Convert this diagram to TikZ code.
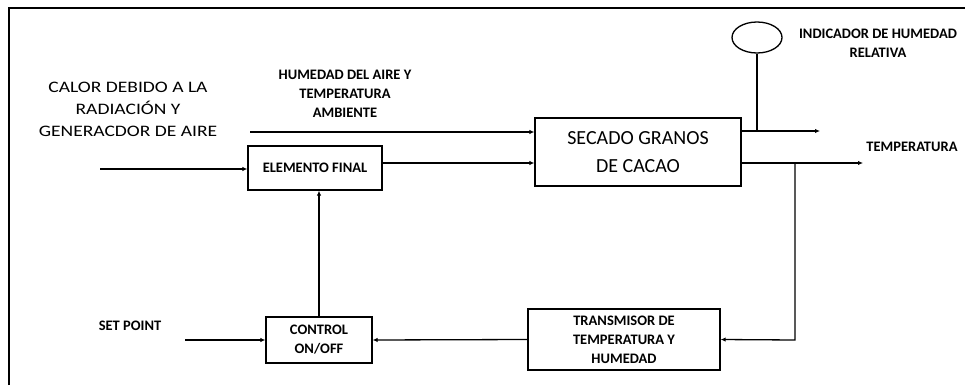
\documentclass[tikz,border=0pt]{standalone}
\usepackage{fontspec}
\setmainfont{Carlito}
\newfontfamily\widefont[FakeStretch=1.22]{Carlito}
\usetikzlibrary{arrows.meta,shapes.geometric}
\begin{document}
\begin{tikzpicture}[x=1pt,y=-1pt,
  line width=1.3pt,
  arr/.style={-{Latex[length=5pt,width=4.5pt]}},
  blk/.style={draw,line width=1.3pt,align=center,inner sep=0pt},
  lbl/.style={align=center,font=\fontsize{14.5}{19}\selectfont\bfseries},
  big/.style={align=center,font=\widefont\fontsize{16}{22}\selectfont}]
\useasboundingbox (0,0) rectangle (965,385);
\draw (9,385) -- (9,8) -- (965,8);
% blocks
\node[blk,lbl,minimum width=134,minimum height=44] (elem) at (315,168) {ELEMENTO FINAL};
\node[blk,font=\fontsize{20}{28}\selectfont,minimum width=206,minimum height=68] (sec) at (638,152) {SECADO GRANOS\\DE CACAO};
\node[blk,lbl,minimum width=192,minimum height=61] (tra) at (624,339.5) {TRANSMISOR DE\\TEMPERATURA Y\\HUMEDAD};
\node[blk,lbl,minimum width=106,minimum height=46] (ctl) at (319,340) {CONTROL\\ON/OFF};
\node[draw,ellipse,line width=1.3pt,minimum width=50,minimum height=31,inner sep=0pt] (ind) at (757,37.5) {};
% labels
\node[big] (tcal) at (128,109) {CALOR DEBIDO A LA\\RADIACIÓN Y\\GENERACDOR DE AIRE};
\node[lbl] (thum) at (345,94) {HUMEDAD DEL AIRE Y\\TEMPERATURA\\AMBIENTE};
\node[lbl] (tind) at (878,43) {INDICADOR DE HUMEDAD\\RELATIVA};
\node[lbl] (ttem) at (912,147) {TEMPERATURA};
\node[lbl] (tsp) at (130,326) {SET POINT};
% coordinates
\coordinate (cin) at (100,169);
\coordinate (hin) at (250,132);
\coordinate (sp) at (185,340);
\coordinate (o1) at (820,131);
\coordinate (o2) at (863,163);
\coordinate (j1) at (757,131);
\coordinate (j2) at (795,163);
\coordinate (cr) at (795,340);
% connectors
\draw[arr] (cin) -- (cin -| elem.west);
\draw[arr] (hin) -- (hin -| sec.west);
\draw[arr] ([yshift=5pt]elem.east) -- ([yshift=5pt]elem.east -| sec.west);
\draw[arr] (o1 -| sec.east) -- (o1);
\draw (j1) -- (ind.south);
\draw[arr] (o2 -| sec.east) -- (o2);
\draw[arr] (j2) -- (cr) -- (tra.east);
\draw[arr] (tra.west) -- (ctl.east);
\draw[arr] (sp) -- (ctl.west);
\draw[arr] (ctl.north) -- (ctl.north |- elem.south);
\end{tikzpicture}
\end{document}
